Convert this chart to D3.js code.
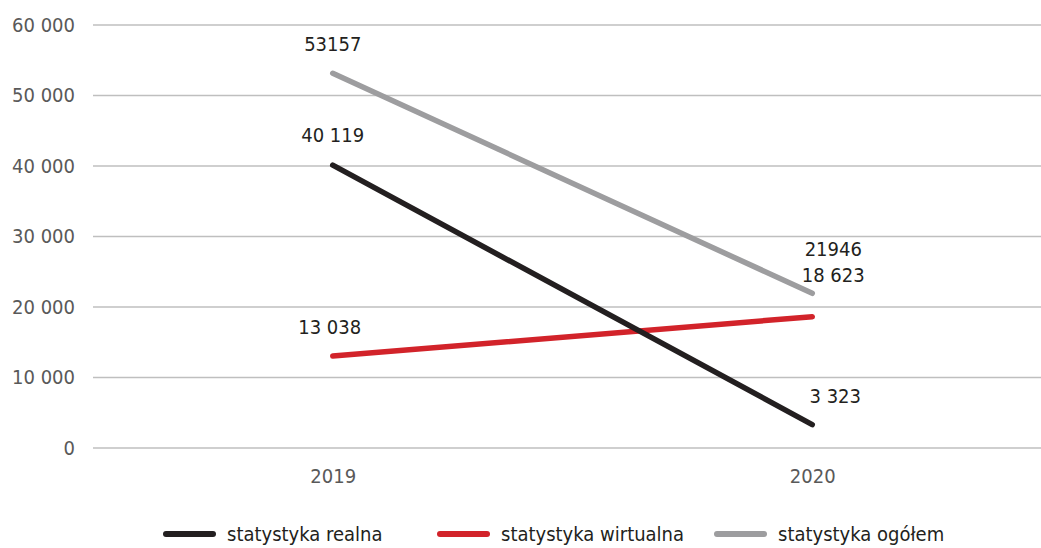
<!DOCTYPE html>
<html><head><meta charset="utf-8">
<script src="https://cdn.jsdelivr.net/npm/d3@7"></script>
<style>
html,body{margin:0;padding:0;background:#fff;}
svg{display:block;font-family:"DejaVu Sans Condensed","DejaVu Sans",sans-serif;font-stretch:condensed;}
</style></head>
<body>
<script>
const categories = ["2019", "2020"];
const realna = [40119, 3323];
const wirtualna = [13038, 18623];
const ogolem = [53157, 21946];
const realnaLabels = ["40 119", "3 323"];
const wirtualnaLabels = ["13 038", "18 623"];
const ogolemLabels = ["53157", "21946"];
const yTicks = [0, 10000, 20000, 30000, 40000, 50000, 60000];
const yTickLabels = ["0", "10 000", "20 000", "30 000", "40 000", "50 000", "60 000"];
const seriesNames = ["statystyka realna", "statystyka wirtualna", "statystyka ogółem"];
const seriesColors = ["#231f20", "#d2232a", "#9d9d9f"];

const W = 1041, H = 548;
const FS = 20;
const FF = "\"DejaVu Sans Condensed\",\"DejaVu Sans\",sans-serif";
const svg = d3.select("body").append("svg").attr("width", W).attr("height", H);

const x = d3.scalePoint().domain(categories).range([93, 1052]).padding(0.5);
const y = d3.scaleLinear().domain([0, 60000]).range([448, 25]);

// gridlines
svg.append("g").selectAll("line").data(yTicks).join("line")
  .attr("x1", 93).attr("x2", W)
  .attr("y1", d => y(d)).attr("y2", d => y(d))
  .attr("stroke", "#bfbfbf").attr("stroke-width", 1.5);

// y axis labels
const yAxis = d3.axisLeft(y).tickValues(yTicks).tickFormat((d, i) => yTickLabels[i]).tickSize(0).tickPadding(0);
const yg = svg.append("g").attr("transform", "translate(75,0)").call(yAxis);
yg.select(".domain").remove();
yg.selectAll("text").attr("font-size", FS).attr("fill", "#595959").attr("font-family", FF);

// x axis labels
const xAxis = d3.axisBottom(x).tickSize(0).tickPadding(0);
const xg = svg.append("g").attr("transform", "translate(0,469)").call(xAxis);
xg.select(".domain").remove();
xg.selectAll("text").attr("font-size", FS).attr("fill", "#595959").attr("font-family", FF);

const series = [
  {vals: realna, labels: realnaLabels, color: seriesColors[0], offs: [[0, -23], [23, -22]]},
  {vals: wirtualna, labels: wirtualnaLabels, color: seriesColors[1], offs: [[-3, -22], [21, -35]]},
  {vals: ogolem, labels: ogolemLabels, color: seriesColors[2], offs: [[0, -22], [21, -37]]}
];

const line = d3.line().x((d, i) => x(categories[i])).y(d => y(d));

[series[2], series[1], series[0]].forEach(s => {
  svg.append("path").datum(s.vals).attr("d", line)
    .attr("fill", "none").attr("stroke", s.color).attr("stroke-width", 5.5)
    .attr("stroke-linecap", "round");
});

series.forEach(s => {
  svg.append("g").selectAll("text").data(s.vals).join("text")
    .attr("x", (d, i) => x(categories[i]) + s.offs[i][0])
    .attr("y", (d, i) => y(d) + s.offs[i][1])
    .attr("text-anchor", "middle")
    .attr("font-size", FS).attr("fill", "#231f20")
    .text((d, i) => s.labels[i]);
});

// legend
const legendX = [163, 437, 714];
const lg = svg.append("g");
seriesNames.forEach((n, i) => {
  lg.append("line").attr("x1", legendX[i] + 3).attr("x2", legendX[i] + 50)
    .attr("y1", 534).attr("y2", 534)
    .attr("stroke", seriesColors[i]).attr("stroke-width", 6).attr("stroke-linecap", "round");
  lg.append("text").attr("x", legendX[i] + 64).attr("y", 541)
    .attr("font-size", FS).attr("fill", "#231f20").text(n);
});
</script>
</body></html>
